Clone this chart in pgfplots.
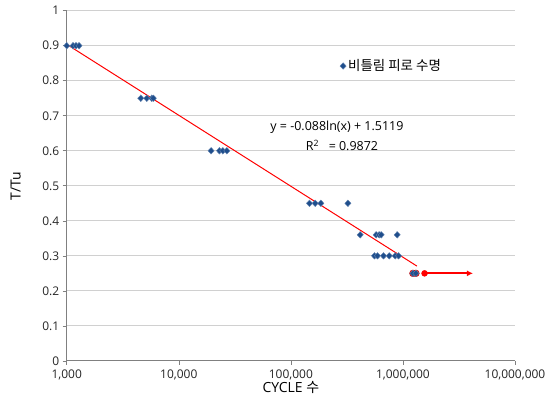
\documentclass[border=0pt]{standalone}
\usepackage{pgfplots}
\pgfplotsset{compat=1.18}
\usepackage{fontspec}
\setmainfont{Open Sans}
\newfontfamily\kr{Noto Sans CJK KR}
\usetikzlibrary{arrows.meta}
\definecolor{ptblue}{HTML}{1F4E8C}
\definecolor{gridgray}{HTML}{D0D0D0}
\definecolor{axgray}{HTML}{808080}
\begin{document}
\begin{tikzpicture}
\begin{axis}[
  name=ax,
  scale only axis,
  width=448bp, height=350bp,
  xmode=log, log basis x=10,
  xmin=1000, xmax=10000000,
  ymin=0, ymax=1,
  ytick={0,0.1,...,1.0},
  yticklabels={0,0.1,0.2,0.3,0.4,0.5,0.6,0.7,0.8,0.9,1},
  xtick={1000,10000,100000,1000000,10000000},
  xticklabels={{1,000},{10,000},{100,000},{1,000,000},{10,000,000}},
  /pgf/number format/assume math mode=true,
  ticklabel style={font=\fontsize{12}{14}\selectfont, text=black!85},
  axis x line*=bottom, axis y line*=left,
  axis line style={axgray, line width=0.8pt, -},
  tick style={axgray, line width=0.6pt},
  tick align=outside,
  major tick length=4bp,
  minor tick num=0,
  minor x tick style={draw=none},
  x tick label style={yshift=-1bp},
  ymajorgrids, grid style={gridgray, line width=0.8pt},
  xlabel={CYCLE {\kr 수}},
  ylabel={T/Tu},
  label style={font=\fontsize{14}{16}\selectfont},
  xlabel style={at={(rel axis cs:0.5,0)}, anchor=center, yshift=-27bp},
  ylabel style={at={(rel axis cs:-0.1138,0.5)}, anchor=center},
  legend style={draw=none, fill=none, at={(rel axis cs:0.607,0.842)}, anchor=west, font=\kr\fontsize{13.5}{15}\selectfont, inner sep=1pt},
  legend cell align=left,
  clip=false,
]
% red highlight under 0.25 points
\addplot[only marks, mark=*, mark size=3.4bp, color=red!85!black, forget plot] coordinates {(1228000,0.25) (1306000,0.25)};
% data
\addplot[only marks, mark=diamond*, mark size=3.3bp, color=ptblue, mark options={fill=ptblue, draw=ptblue!70, xscale=1.25}] coordinates {
(1000,0.9) (1138,0.9) (1210,0.9) (1288,0.9)
(4580,0.75) (5180,0.75) (5740,0.75) (5930,0.75)
(19420,0.6) (23060,0.6) (24700,0.6) (26840,0.6)
(146600,0.45) (164800,0.45) (185300,0.45) (323000,0.45)
(415800,0.36) (577000,0.36) (614000,0.36) (640000,0.36) (889000,0.36)
(557500,0.3) (593000,0.3) (671000,0.3) (755000,0.3) (853000,0.3) (914000,0.3)
(1228000,0.25) (1306000,0.25)
};
\addlegendentry{비틀림 피로 수명}
% trend line y = -0.088 ln(x) + 1.5119
\addplot[red, line width=1pt, forget plot] coordinates {(1000,0.9040) (1334000,0.2707)};
% arrow
\addplot[red, line width=2pt, -{Latex[length=6bp,width=6bp]}, forget plot] coordinates {(1560000,0.25) (4220000,0.25)};
\addplot[only marks, mark=*, mark size=3bp, red, forget plot] coordinates {(1560000,0.25)};
\node[anchor=west, font=\fontsize{12.5}{14}\selectfont, inner sep=0pt] at (rel axis cs:0.454,0.668) {y = -0.088ln(x) + 1.5119};
\node[anchor=west, font=\fontsize{12.5}{14}\selectfont, inner sep=0pt] at (rel axis cs:0.533,0.616) {R\textsuperscript{2}\ \ \ = 0.9872};
\end{axis}
\path ([xshift=-66.7bp,yshift=-43.3bp]ax.south west) rectangle ([xshift=41bp,yshift=10.7bp]ax.north east);
\end{tikzpicture}
\end{document}
